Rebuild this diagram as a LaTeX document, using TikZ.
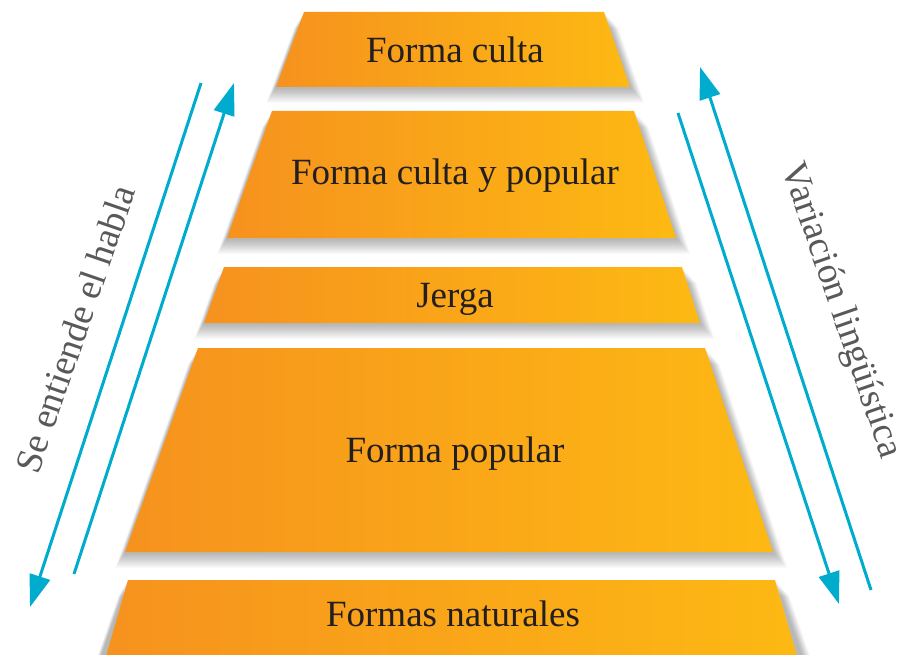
\documentclass[tikz,border=0pt]{standalone}
\usepackage{fontspec}
\setmainfont{Liberation Serif}
\usetikzlibrary{arrows.meta}
\definecolor{orangeL}{RGB}{246,146,30}
\definecolor{orangeR}{RGB}{253,185,19}
\definecolor{arrowc}{RGB}{0,172,205}
\definecolor{txt}{RGB}{35,31,32}
\definecolor{sidetxt}{RGB}{88,89,91}
\begin{document}
\begin{tikzpicture}[x=1pt,y=-1pt,
  layerbox/.style={left color=orangeL,right color=orangeR,draw=none},
  lbl/.style={font=\fontsize{37}{40}\selectfont, text=txt, anchor=base, inner sep=0pt},
  sidelbl/.style={font=\fontsize{37.5}{40}\selectfont, text=sidetxt, anchor=base, inner sep=0pt},
  arr/.style={draw=arrowc, line width=3pt, -{Triangle[length=32pt,width=21pt]}},
]
\useasboundingbox (0,0) rectangle (904,655);
\fill[white] (0,0) rectangle (904,655);
% shadows
\foreach \a/\b/\c/\d/\t/\u in {304/604/630/276/12/87, 272/634/676/227/111/238, 224/682/700/204/267/323, 198/705/773/125/348/552, 128/775/801/102/580/655}{
  \foreach \k in {2,...,16}{
    \fill[black,opacity=0.02] (\a-\k*0.6,\t+\k) -- (\b+\k*0.9,\t+\k) -- (\c+\k*0.9,\u+\k) -- (\d-\k*0.6,\u+\k) -- cycle;
  }
}
% layers
\foreach \a/\b/\c/\d/\t/\u in {304/604/630/276/12/87, 272/634/676/227/111/238, 224/682/700/204/267/323, 198/705/773/125/348/552, 128/775/801/102/580/670}{
  \path[layerbox] (\a,\t) -- (\b,\t) -- (\c,\u) -- (\d,\u) -- cycle;
}
% labels
\node[lbl] (l1) at (455,63) {Forma culta};
\node[lbl] (l2) at (455,185) {Forma culta y popular};
\node[lbl] (l3) at (455,307) {Jerga};
\node[lbl] (l4) at (455,462) {Forma popular};
\node[lbl] (l5) at (453,626) {Formas naturales};
% side labels
\node[sidelbl, rotate=71] (sl) at (87,333) {Se entiende el habla};
\node[sidelbl, rotate=-71] (sr) at (832,314) {Variación lingüística};
% arrows
\coordinate (la1) at (201,83);
\coordinate (la2) at (30,607);
\coordinate (lb1) at (74,574);
\coordinate (lb2) at (234,83);
\coordinate (ra1) at (871,590);
\coordinate (ra2) at (700,67);
\coordinate (rb1) at (678,113);
\coordinate (rb2) at (839,604);
\draw[arr] (la1) -- (la2);
\draw[arr] (lb1) -- (lb2);
\draw[arr] (ra1) -- (ra2);
\draw[arr] (rb1) -- (rb2);
\end{tikzpicture}
\end{document}
